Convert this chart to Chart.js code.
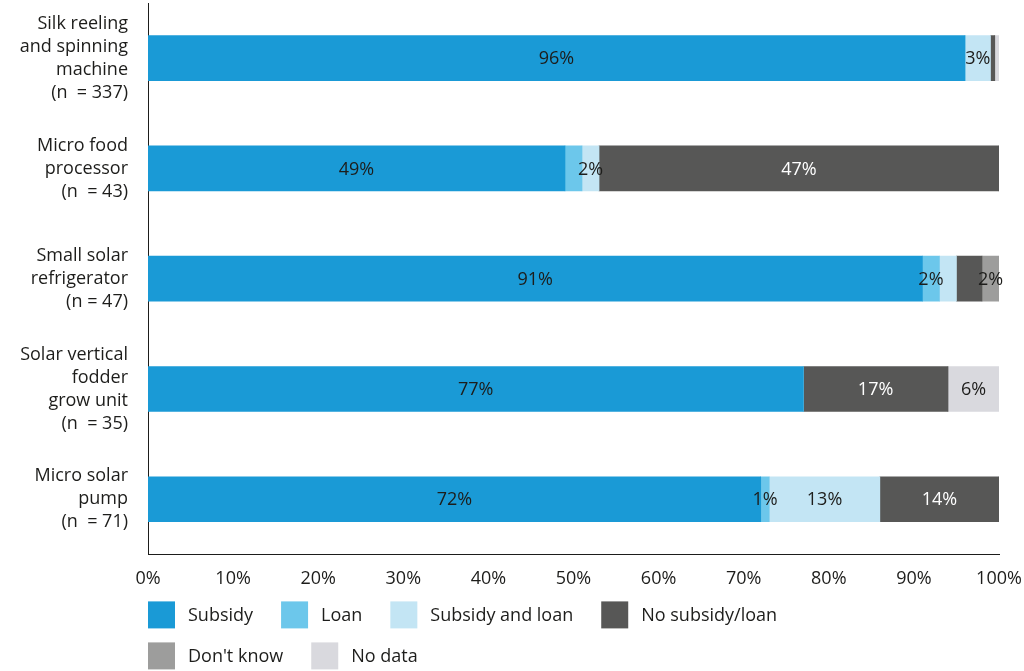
<!DOCTYPE html>
<html lang="en">
<head>
<meta charset="UTF-8">
<title>Financing by appliance</title>
<script src="https://cdn.jsdelivr.net/npm/chart.js"></script>
<style>
    html, body { margin: 0; padding: 0; background: #fff; }
</style>
</head>
<body>
<canvas id="financeChart" width="1024" height="671"></canvas>
<script>
    // data
    const categories = [
        ['Silk reeling', 'and spinning', 'machine', '(n  = 337)'],
        ['Micro food', 'processor', '(n  = 43)'],
        ['Small solar', 'refrigerator', '(n = 47)'],
        ['Solar vertical', 'fodder', 'grow unit', '(n  = 35)'],
        ['Micro solar', 'pump', '(n  = 71)']
    ];
    const subsidy = [96, 49, 91, 77, 72];
    const loan = [0, 2, 2, 0, 1];
    const subsidyAndLoan = [3, 2, 2, 0, 13];
    const noSubsidyLoan = [0.5, 47, 3, 17, 14];
    const dontKnow = [0, 0, 2, 0, 0];
    const noData = [0.5, 0, 0, 6, 0];
    const seriesNames = ['Subsidy', 'Loan', 'Subsidy and loan', 'No subsidy/loan', "Don't know", 'No data'];
    const xTicks = [0, 10, 20, 30, 40, 50, 60, 70, 80, 90, 100];
    // segments the original leaves unlabelled: [series, row]
    const hiddenLabels = [[1, 1], [2, 2], [3, 2]];

    const seriesColors = ['#1a9ad6', '#6cc7eb', '#c3e5f4', '#575756', '#9d9d9c', '#d9d9de'];
    const textColor = '#1d1d1b';
    const FONT = '18px "Open Sans"';

    const barLabels = {
        id: 'barLabels',
        afterDatasetsDraw(chart) {
            const ctx = chart.ctx;
            ctx.save();
            ctx.font = FONT;
            ctx.textAlign = 'center';
            ctx.textBaseline = 'middle';
            chart.data.datasets.forEach((ds, di) => {
                chart.getDatasetMeta(di).data.forEach((bar, ri) => {
                    const v = ds.data[ri];
                    if (v < 1) return;
                    if (hiddenLabels.some(h => h[0] === di && h[1] === ri)) return;
                    const p = bar.getProps(['x', 'y', 'base'], true);
                    ctx.fillStyle = di === 3 ? '#ffffff' : textColor;
                    ctx.fillText(v + '%', (p.x + p.base) / 2, p.y + 1);
                });
            });
            ctx.restore();
        }
    };

    // legend drawn under the axis, square boxes, wraps after ~830px
    const bottomLegend = {
        id: 'bottomLegend',
        afterDraw(chart) {
            const ctx = chart.ctx;
            const startX = chart.chartArea.left;
            let x = startX;
            let y = chart.chartArea.bottom + 47;
            ctx.save();
            ctx.font = FONT;
            ctx.textBaseline = 'middle';
            chart.data.datasets.forEach(ds => {
                const w = 27 + 13 + ctx.measureText(ds.label).width;
                if (x > startX && x + w > 830) {
                    x = startX;
                    y += 41;
                }
                ctx.fillStyle = ds.backgroundColor;
                ctx.fillRect(x, y, 27, 27);
                ctx.fillStyle = textColor;
                ctx.fillText(ds.label, x + 40, y + 14);
                x += w + 28;
            });
            ctx.restore();
        }
    };

    const seriesData = [subsidy, loan, subsidyAndLoan, noSubsidyLoan, dontKnow, noData];

    new Chart(document.getElementById('financeChart'), {
        type: 'bar',
        data: {
            labels: categories,
            datasets: seriesData.map((d, i) => ({
                label: seriesNames[i],
                data: d,
                backgroundColor: seriesColors[i],
                borderWidth: 0,
                barThickness: 45
            }))
        },
        options: {
            indexAxis: 'y',
            responsive: false,
            animation: false,
            layout: { padding: { top: 3, right: 25, bottom: 67, left: 0 } },
            plugins: {
                legend: { display: false },
                tooltip: { enabled: false }
            },
            scales: {
                x: {
                    stacked: true,
                    min: 0,
                    max: 100,
                    afterBuildTicks(scale) {
                        scale.ticks = xTicks.map(v => ({ value: v }));
                    },
                    afterFit(scale) {
                        scale.paddingLeft = 0;
                        scale.paddingRight = 0;
                    },
                    ticks: {
                        callback: v => v + '%',
                        font: { family: 'Open Sans', size: 18 },
                        color: textColor,
                        padding: 14,
                        maxRotation: 0
                    },
                    grid: { display: false, drawTicks: false },
                    border: { display: true, color: '#1d1d1b', width: 1 }
                },
                y: {
                    stacked: true,
                    afterFit(scale) {
                        scale.width = 148;
                        scale.paddingTop = 0;
                        scale.paddingBottom = 0;
                    },
                    ticks: {
                        font: { family: 'Open Sans', size: 18, lineHeight: 1.28 },
                        color: textColor,
                        padding: 20
                    },
                    grid: { display: false, drawTicks: false },
                    border: { display: true, color: '#1d1d1b', width: 1 }
                }
            }
        },
        plugins: [barLabels, bottomLegend]
    });
</script>
</body>
</html>
